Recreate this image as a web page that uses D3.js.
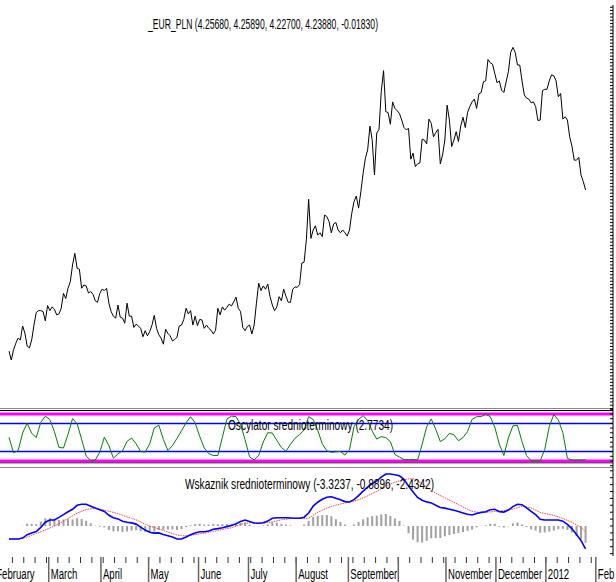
<!DOCTYPE html>
<html>
<head>
<meta charset="utf-8">
<script src="https://cdn.jsdelivr.net/npm/d3@7"></script>
<style>
    body { margin: 0; background: #fff; }
    svg { display: block; font-family: "Liberation Sans", Arial, sans-serif; }
</style>
</head>
<body>
<svg class="chart"></svg>
<script>
// daily closes, one per session (session 0 = 3 Feb 2011)
const priceClose = [
    3.893, 3.874, 3.896, 3.910, 3.921, 3.917, 3.947, 3.932, 3.904, 3.900,
    3.917, 3.949, 3.976, 3.980, 3.980, 3.978, 3.958, 3.991, 3.980, 3.988,
    3.983, 3.971, 3.973, 3.985, 4.017, 4.006, 4.028, 4.042, 4.078, 4.103,
    4.071, 4.069, 4.028, 4.035, 4.033, 4.018, 4.021, 4.015, 4.001, 3.998,
    4.017, 4.026, 4.023, 4.028, 3.996, 3.978, 3.968, 3.964, 3.992, 3.966,
    3.964, 3.953, 3.996, 3.968, 3.968, 3.944, 3.951, 3.947, 3.942, 3.924,
    3.937, 3.926, 3.935, 3.949, 3.970, 3.942, 3.928, 3.921, 3.908, 3.940,
    3.931, 3.926, 3.915, 3.918, 3.923, 3.947, 3.949, 3.961, 3.985, 3.973,
    3.980, 3.949, 3.968, 3.948, 3.961, 3.960, 3.942, 3.949, 3.942, 3.938,
    3.930, 3.938, 3.985, 3.971, 3.988, 3.981, 3.987, 3.994, 3.990, 3.999,
    4.009, 3.985, 3.978, 3.944, 3.937, 3.946, 3.949, 3.930, 3.949, 3.996,
    4.039, 4.023, 4.033, 4.026, 4.037, 4.010, 3.992, 3.980, 3.988, 4.010,
    4.001, 4.026, 4.011, 3.998, 3.998, 4.026, 4.031, 4.030, 4.036, 4.082,
    4.084, 4.132,
    4.219, 4.135, 4.153, 4.162, 4.142, 4.147, 4.139, 4.185, 4.182, 4.171,
    4.147, 4.166, 4.169, 4.153, 4.147, 4.153, 4.147, 4.140, 4.153, 4.189,
    4.214, 4.226, 4.200, 4.235, 4.275, 4.307, 4.325, 4.376, 4.346, 4.271,
    4.361, 4.369, 4.450, 4.495, 4.407, 4.405, 4.380, 4.428, 4.414, 4.409,
    4.403, 4.389, 4.373, 4.368, 4.371, 4.305, 4.318, 4.289, 4.295, 4.297,
    4.348, 4.346, 4.338, 4.391, 4.382, 4.353, 4.362, 4.369, 4.295, 4.314,
    4.346, 4.421, 4.389, 4.332, 4.346, 4.364, 4.343, 4.376, 4.395, 4.373,
    4.405, 4.418, 4.428, 4.434, 4.414, 4.445, 4.448, 4.471, 4.473, 4.519,
    4.512, 4.509, 4.489, 4.469, 4.473, 4.453, 4.448, 4.471, 4.493, 4.534,
    4.545, 4.534, 4.507, 4.507, 4.473, 4.443, 4.436, 4.434, 4.426, 4.428,
    4.418, 4.388, 4.389, 4.452, 4.455, 4.455, 4.473, 4.486, 4.484, 4.473,
    4.439, 4.446, 4.391, 4.396, 4.389, 4.353, 4.333, 4.303, 4.303, 4.309,
    4.271, 4.257, 4.2388
];

// indicators, read every second session
const sampleStep = 2;
const oscValues = [
    50.4, 17.4, 22.1, 59.6, 80.6, 58.9, 50.0, 82.1, 95.3, 88.3,
    62.6, 28.9, 27.7, 56.8, 90.2, 79.4, 46.2, 10.6, 1.1, 1.9,
    19.1, 50.6, 32.8, 5.7, 15.3, 21.7, 41.7, 48.9, 36.8, 20.0,
    19.1, 36.6, 70.2, 76.2, 46.0, 22.3, 32.8, 48.1, 64.3, 81.3,
    94.3, 81.1, 52.3, 27.7, 15.7, 11.7, 11.7, 50.6, 89.1, 95.5,
    94.5, 77.9, 45.3, 8.7, 2.3, 11.7, 40.4, 60.2, 59.6, 43.8,
    28.7, 20.6, 35.5, 48.3, 56.2, 66.0, 94.3, 88.5, 65.5, 36.6,
    21.7, 18.5, 19.6, 20.2, 12.6, 24.0, 73.2, 88.7, 96.6, 86.0,
    63.6, 46.6, 52.1, 49.6, 41.3, 13.8, 8.3, 3.0, 2.8, 3.6,
    2.1, 35.5, 72.8, 89.4, 67.7, 41.3, 47.2, 58.9, 55.7, 43.0,
    49.8, 62.6, 88.7, 94.3, 94.5, 99.4, 94.3, 72.3, 35.7, 11.7,
    49.1, 74.9, 75.7, 41.1, 11.5, 0.6, 0.6, 0.6, 24.3, 73.2,
    98.9, 87.2, 60.2, 5.5, 2.1, 2.1, 2.1, 2.7734
];
const macdValues = [
    -1.884, -1.884, -1.884, -1.754, -1.261, -1.029, -0.812, -0.203, 0.551, 0.870,
    0.870, 1.246, 1.652, 2.072, 2.420, 3.000, 3.145, 3.145, 2.870, 2.594,
    2.348, 2.101, 1.551, 1.203, 1.029, 0.681, 0.536, 0.449, 0.275, -0.159,
    -0.594, -0.899, -1.029, -1.000, -1.217, -1.406, -1.609, -1.884, -1.884, -1.594,
    -1.261, -1.000, -0.826, -0.826, -0.725, -0.478, -0.377, -0.246, -0.087, 0.072,
    0.333, 0.652, 0.870, 0.638, 0.435, 0.391, 0.464, 0.710, 1.116, 1.203,
    1.203, 1.203, 1.159, 1.116, 1.116, 1.275, 1.884, 2.884, 3.449, 3.870,
    4.174, 4.232, 4.014, 3.797, 3.536, 3.478, 3.826, 4.406, 5.043, 5.638,
    6.130, 6.536, 7.072, 7.536, 7.536, 7.435, 7.275, 6.768, 5.783, 4.913,
    4.145, 3.725, 3.493, 3.348, 3.014, 2.681, 2.594, 2.435, 2.275, 2.101,
    1.899, 1.710, 1.594, 1.812, 1.971, 2.072, 2.362, 2.420, 2.087, 2.014,
    2.304, 2.812, 3.159, 3.087, 2.638, 2.130, 1.638, 0.986, 0.870, 0.870,
    0.870, 0.870, 0.696, 0.232, -0.406, -1.246, -2.116, -3.3237
];
const signalValues = [
    -1.884, -1.884, -1.884, -1.783, -1.594, -1.348, -1.087, -0.826, -0.565, -0.275,
    0.000, 0.333, 0.710, 1.087, 1.478, 1.870, 2.130, 2.391, 2.478, 2.551,
    2.449, 2.304, 2.130, 1.971, 1.783, 1.551, 1.333, 1.116, 0.899, 0.580,
    0.261, 0.000, -0.217, -0.435, -0.667, -0.884, -1.101, -1.304, -1.406, -1.420,
    -1.348, -1.261, -1.145, -1.029, -0.913, -0.783, -0.638, -0.507, -0.377, -0.246,
    -0.029, 0.232, 0.391, 0.449, 0.478, 0.435, 0.391, 0.493, 0.594, 0.739,
    0.899, 1.000, 1.072, 1.116, 1.116, 1.072, 1.130, 1.565, 1.971, 2.290,
    2.594, 2.812, 3.029, 3.188, 3.333, 3.478, 3.609, 3.812, 4.072, 4.377,
    4.696, 5.029, 5.406, 5.783, 6.072, 6.348, 6.536, 6.696, 6.826, 6.884,
    6.507, 6.130, 5.638, 5.130, 4.754, 4.420, 4.087, 3.754, 3.435, 3.101,
    2.768, 2.420, 2.116, 2.014, 1.942, 1.971, 2.043, 2.101, 2.174, 2.232,
    2.333, 2.435, 2.652, 2.870, 2.768, 2.623, 2.304, 1.971, 1.797, 1.681,
    1.536, 1.319, 1.101, 0.812, 0.522, 0.174, -0.188, -0.8896
];

const oscLevels = [0, 20, 80, 100];
const monthStarts = [-6, 18, 41, 62, 84, 106, 127, 150, 172, 193, 215, 237, 259];
const monthLabels = ["February", "March", "April", "May", "June", "July", "August",
    "September", "", "November", "December", "2012", "Feb"];

const titleText = "_EUR_PLN (4.25680, 4.25890, 4.22700, 4.23880, -0.01830)";
const oscTitle = "Oscylator srednioterminowy (2.7734)";
const macdTitle = "Wskaznik srednioterminowy (-3.3237, -0.8896, -2.4342)";

(function () {
    const width = 616;
    const height = 582;
    const axisX = 613;

    let svg = d3.select("svg.chart")
        .attr("width", width)
        .attr("height", height);

    let x = d3.scaleLinear().domain([0, 254]).range([9, 9 + 254 * 2.27]);
    let yPrice = d3.scaleLinear().domain([3.80, 4.62]).range([394.5, 12.4]);
    let yOsc = d3.scaleLinear().domain([0, 100]).range([461, 414]);
    let yMacd = d3.scaleLinear().domain([-5, 8.5]).range([560.5, 467.35]);

    function hline(y, colour, w) {
        svg.append("line")
            .attr("x1", 0).attr("x2", axisX)
            .attr("y1", y).attr("y2", y)
            .attr("stroke", colour)
            .attr("stroke-width", w);
    }

    // panel separators
    hline(408.5, "#888", 1);
    hline(410.5, "#000", 1);
    hline(462.8, "#000", 1);
    hline(467.5, "#888", 1);

    // oscillator levels
    oscLevels.forEach(function (lv) {
        let extreme = (lv == 0 || lv == 100);
        hline(yOsc(lv), extreme ? "#ff00ff" : "#0000ff", extreme ? 3 : 1.5);
    });

    // price
    svg.append("path")
        .datum(priceClose)
        .attr("fill", "none")
        .attr("stroke", "#000")
        .attr("stroke-width", 1)
        .attr("d", d3.line()
            .x(function (d, i) { return x(i); })
            .y(function (d) { return yPrice(d); }));

    // oscillator
    svg.append("path")
        .datum(oscValues)
        .attr("fill", "none")
        .attr("stroke", "#008000")
        .attr("stroke-width", 1)
        .attr("d", d3.line()
            .x(function (d, i) { return x(i * sampleStep); })
            .y(function (d) { return yOsc(d); }));

    // macd histogram
    svg.append("g").selectAll("line")
        .data(macdValues)
        .enter().append("line")
        .attr("x1", function (d, i) { return x(i * sampleStep); })
        .attr("x2", function (d, i) { return x(i * sampleStep); })
        .attr("y1", yMacd(0))
        .attr("y2", function (d, i) { return yMacd(d - signalValues[i]); })
        .attr("stroke", "#a0a0a0")
        .attr("stroke-width", 2);

    svg.append("path")
        .datum(signalValues)
        .attr("fill", "none")
        .attr("stroke", "#ff4040")
        .attr("stroke-width", 1)
        .attr("stroke-dasharray", "1.5,1")
        .attr("d", d3.line()
            .x(function (d, i) { return x(i * sampleStep); })
            .y(function (d) { return yMacd(d); }));

    svg.append("path")
        .datum(macdValues)
        .attr("fill", "none")
        .attr("stroke", "#0000ff")
        .attr("stroke-width", 1.6)
        .attr("d", d3.line()
            .x(function (d, i) { return x(i * sampleStep); })
            .y(function (d) { return yMacd(d); }));

    // titles (squeezed like the original)
    function title(txt, tx, ty, len) {
        svg.append("text")
            .attr("x", tx)
            .attr("y", ty)
            .attr("font-size", 15)
            .attr("textLength", len)
            .attr("lengthAdjust", "spacingAndGlyphs")
            .attr("fill", "#000")
            .text(txt);
    }
    title(titleText, 148, 28.5, 230);
    title(oscTitle, 228, 430, 165);
    title(macdTitle, 185, 489, 249);

    // right axis
    svg.append("line")
        .attr("x1", axisX).attr("x2", axisX)
        .attr("y1", 5).attr("y2", 556)
        .attr("stroke", "#000");

    let rightTicks = d3.range(3.77, 4.635, 0.007).map(function (v) { return yPrice(v); })
        .concat(d3.range(-10, 111, 10).map(function (v) { return yOsc(v); }))
        .concat(d3.range(-4, 9, 1).map(function (v) { return yMacd(v); }));

    svg.append("g").selectAll("line")
        .data(rightTicks)
        .enter().append("line")
        .attr("x1", axisX - 3).attr("x2", axisX)
        .attr("y1", function (d) { return d; })
        .attr("y2", function (d) { return d; })
        .attr("stroke", "#000");

    // time axis: weekly ticks and month lines
    svg.append("g").selectAll("line")
        .data(d3.range(2, 259, 5))
        .enter().append("line")
        .attr("x1", function (d) { return x(d - 0.5); })
        .attr("x2", function (d) { return x(d - 0.5); })
        .attr("y1", 557).attr("y2", 563)
        .attr("stroke", "#333");

    let month = svg.append("g").selectAll("g")
        .data(monthStarts)
        .enter().append("g");

    month.append("line")
        .attr("x1", function (d) { return x(d - 0.5); })
        .attr("x2", function (d) { return x(d - 0.5); })
        .attr("y1", 557).attr("y2", 582)
        .attr("stroke", "#666")
        .attr("stroke-width", 1.5);

    month.append("text")
        .attr("transform", function (d) { return "translate(" + (x(d - 0.5) + 2) + ",578.5) scale(0.64,1)"; })
        .attr("font-size", 15)
        .attr("fill", "#000")
        .text(function (d, i) { return monthLabels[i]; });
}());
</script>
</body>
</html>
